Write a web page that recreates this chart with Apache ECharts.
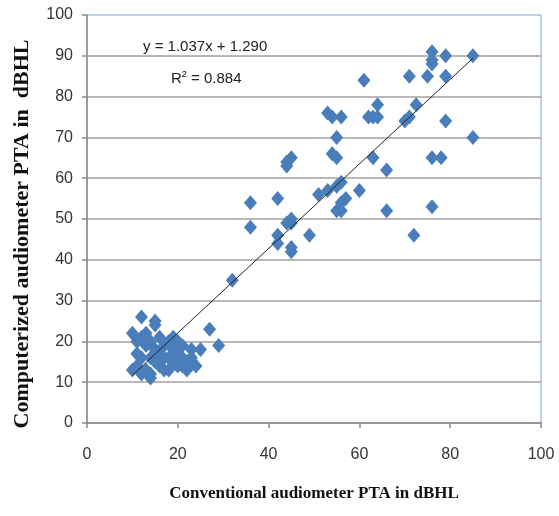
<!doctype html>
<html>
<head>
<meta charset="utf-8">
<title>Conventional vs computerized audiometer PTA</title>
<script src="https://cdn.jsdelivr.net/npm/echarts@6/dist/echarts.min.js"></script>
</head>
<body style="margin:0;background:#fff;">
<div id="container" style="width:559px;height:516px;"></div>
<script type="text/javascript">
    // conventional PTA (x) and computerized PTA (y)
    var convX = [85, 85, 76, 76, 76, 79, 71, 75, 79, 61, 72.5, 70, 71, 79, 64, 64, 62, 63,
                 53, 54, 56, 55, 54, 55, 45, 44, 44, 63, 66, 76, 78, 76, 72, 66, 60, 56,
                 55, 56, 51, 53, 55, 56, 57, 36, 36, 42, 42, 42, 45, 45, 44, 49, 45, 45, 32,
                 10, 11, 12, 12, 13, 11, 12, 10, 11, 12, 13, 14, 14, 15, 15, 14, 15, 16, 15,
                 16, 17, 17, 18, 18, 19, 19, 19, 20, 20, 21, 21, 22, 22, 23, 23, 24, 25, 27,
                 29, 13, 16, 18, 20, 17, 14, 21];
    var compY = [90, 70, 91, 89, 88, 90, 85, 85, 85, 84, 78, 74, 75, 74, 78, 75, 75, 75,
                 76, 75, 75, 70, 66, 65, 65, 64, 63, 65, 62, 65, 65, 53, 46, 52, 57, 54,
                 52, 52, 56, 57, 58, 59, 55, 54, 48, 55, 46, 44, 50, 49, 49, 46, 43, 42, 35,
                 22, 20, 26, 21, 19, 17, 16, 13, 14, 12, 13, 11, 12, 25, 24, 20, 18, 17, 15,
                 14, 13, 19, 20, 16, 21, 18, 15, 17, 14, 19, 16, 15, 13, 18, 16, 14, 18, 23,
                 19, 22, 21, 13, 20, 16, 16, 14];
    // linear trend line ends
    var trendX = [10, 85];
    var trendY = [11.7, 89.4];

    var points = [];
    for (var i = 0; i < convX.length; i++) {
        points.push([convX[i], compY[i]]);
    }
    var trend = [];
    for (var j = 0; j < trendX.length; j++) {
        trend.push([trendX[j], trendY[j]]);
    }

    var axisGray = '#8c8c8c';
    var option = {
        animation: false,
        grid: {
            left: 87, right: 18, top: 15, bottom: 93,
            outerBoundsMode: 'none',
            show: true,
            borderColor: '#7fa3d6',
            borderWidth: 1
        },
        xAxis: {
            type: 'value',
            min: 0, max: 100, interval: 20,
            name: 'Conventional audiometer PTA in dBHL',
            nameLocation: 'middle',
            nameGap: 62,
            nameTextStyle: { fontFamily: 'Liberation Serif', fontWeight: 'bold', fontSize: 17, color: '#111' },
            axisLine: { lineStyle: { color: axisGray, width: 1.5 } },
            axisTick: { show: true, length: 5, lineStyle: { color: axisGray, width: 1.5 } },
            axisLabel: { margin: 24, fontFamily: 'Liberation Sans', fontSize: 16, color: '#333' },
            splitLine: { show: false }
        },
        yAxis: {
            type: 'value',
            min: 0, max: 100, interval: 10,
            name: 'Computerized audiometer PTA in  dBHL',
            nameLocation: 'middle',
            nameGap: 54,
            nameTextStyle: { fontFamily: 'Liberation Serif', fontWeight: 'bold', fontSize: 22, color: '#111',
                             padding: [0, 30, 0, 0] },
            axisLine: { show: true, lineStyle: { color: axisGray, width: 1.5 } },
            axisTick: { show: true, length: 5, lineStyle: { color: axisGray, width: 1.5 } },
            axisLabel: { margin: 14, fontFamily: 'Liberation Sans', fontSize: 16, color: '#333' },
            splitLine: { show: true, showMaxLine: false, lineStyle: { color: '#a0a0a0', width: 1.5 } }
        },
        graphic: [
            { type: 'text', left: 143, top: 39,
              style: { text: 'y = 1.037x + 1.290', fontFamily: 'Liberation Sans', fontSize: 15, fill: '#222' } },
            { type: 'text', left: 171, top: 70,
              style: { rich: { n: { fontFamily: 'Liberation Sans', fontSize: 15, fill: '#222' },
                               s: { fontFamily: 'Liberation Sans', fontSize: 9, verticalAlign: 'top', padding: [0, 0, 8, 0] } },
                       text: '{n|R}{s|2}{n| = 0.884}' } }
        ],
        series: [
            {
                type: 'scatter',
                data: points,
                symbol: 'diamond',
                symbolSize: [13, 15],
                itemStyle: { color: '#4a7ebb', opacity: 1 },
                z: 3
            },
            {
                type: 'line',
                data: trend,
                symbol: 'none',
                lineStyle: { color: '#222', width: 1 },
                z: 4
            }
        ]
    };
    var myChart = echarts.init(document.getElementById('container'));
    myChart.setOption(option);
</script>
</body>
</html>
